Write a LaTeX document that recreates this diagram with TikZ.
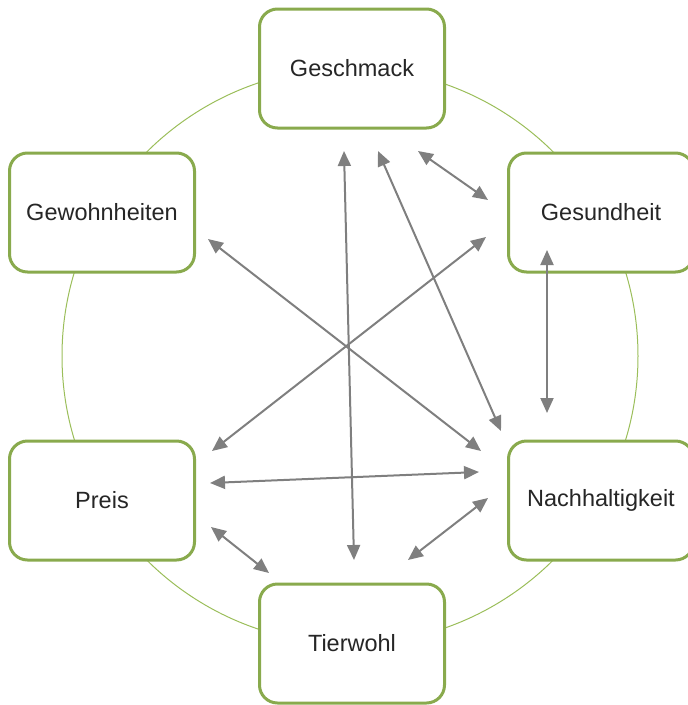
\documentclass[tikz,border=0pt]{standalone}
\usepackage{fontspec}
\setmainfont{Liberation Sans}
\usetikzlibrary{arrows.meta}
\definecolor{boxgreen}{RGB}{137,170,77}
\definecolor{ringgreen}{RGB}{155,190,90}
\definecolor{arrowgray}{RGB}{127,127,127}
\begin{document}
\begin{tikzpicture}[x=1pt,y=-1pt,
  box/.style={draw=boxgreen, line width=3pt, fill=white, rounded corners=18pt,
    minimum width=185pt, minimum height=119pt, inner sep=0pt,
    font=\fontsize{23.5}{28}\selectfont, text=black!85},
  link/.style={draw=arrowgray, line width=2pt, {Triangle[length=15pt,width=13pt]}-{Triangle[length=15pt,width=13pt]}}]
\useasboundingbox (0,0) rectangle (688,705);
\clip (0,0) rectangle (688,705);
\draw[ringgreen, line width=1pt] (350,356) circle[radius=288];
\node[box] (gesch)  at (352,68.5) {Geschmack};
\node[box] (gesund) at (601,212.5) {Gesundheit};
\node[box] (gewohn) at (102,212.5) {Gewohnheiten};
\node[box] (preis)  at (102,500.5) {Preis};
\node[box] (nach)   at (601,500.5) {Nachhaltigkeit};
\node[box] (tier)   at (352,643.5) {Tierwohl};
% connector ends
\coordinate (g1) at (418,151);  \coordinate (s1) at (488,200);
\coordinate (g2) at (344,151);  \coordinate (t2) at (354,560);
\coordinate (g3) at (378,151);  \coordinate (n3) at (501,431);
\coordinate (s4) at (547,250);  \coordinate (n4) at (547,413);
\coordinate (s5) at (486,237);  \coordinate (p5) at (212,451);
\coordinate (w6) at (208,239);  \coordinate (n6) at (481,451);
\coordinate (p7) at (210,483);  \coordinate (n7) at (479,472);
\coordinate (p8) at (211,527);  \coordinate (t8) at (269,573);
\coordinate (n9) at (488,498);  \coordinate (t9) at (408,560);
\draw[link] (g1) -- (s1);
\draw[link] (g2) -- (t2);
\draw[link] (g3) -- (n3);
\draw[link] (s4) -- (n4);
\draw[link] (s5) -- (p5);
\draw[link] (w6) -- (n6);
\draw[link] (p7) -- (n7);
\draw[link] (p8) -- (t8);
\draw[link] (n9) -- (t9);
\end{tikzpicture}
\end{document}
